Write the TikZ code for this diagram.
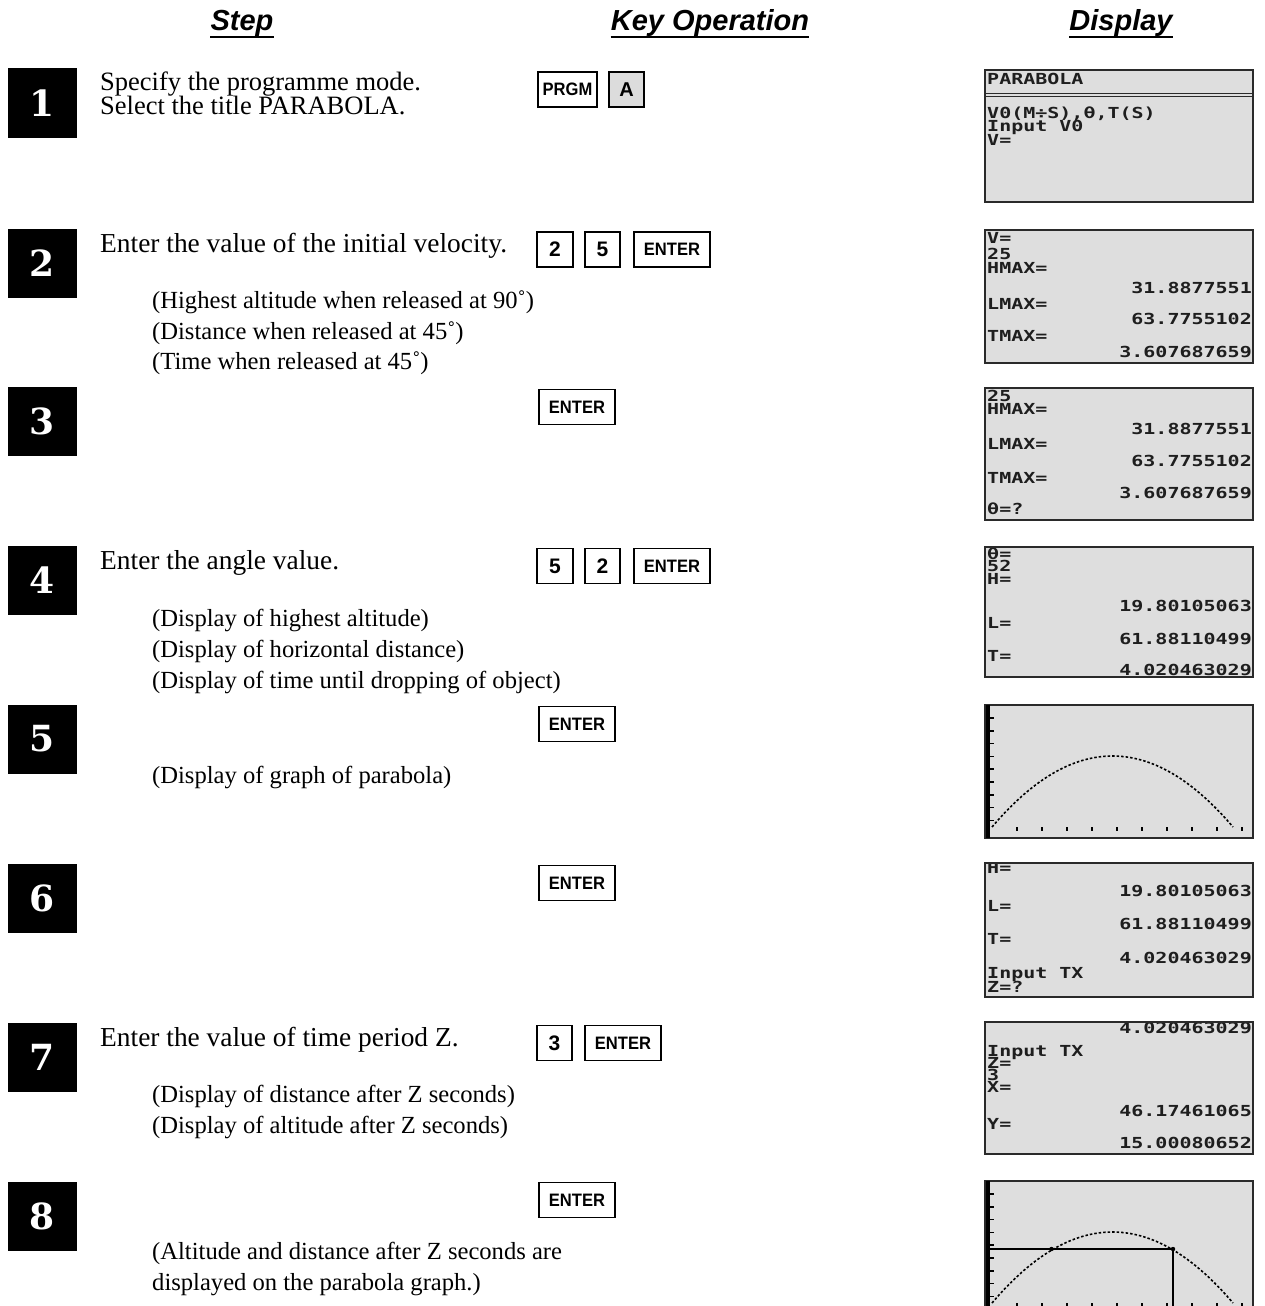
\documentclass[tikz,border=0pt]{standalone}
\usepackage{fontspec}
\setmainfont{Liberation Serif}
\newfontfamily\hdrfont{Liberation Sans}
\newfontfamily\numfont{DejaVu Serif}
\newfontfamily\lcdfont{DejaVu Sans Mono}
\newcommand\lcdtxt[1]{\scalebox{1}[0.76]{#1}}
\newcommand\keylab[1]{\scalebox{0.92}[1]{#1}}
\definecolor{lcdbg}{HTML}{DEDEDE}
\definecolor{keygray}{HTML}{DCDCDC}
\definecolor{scrline}{HTML}{2A2A2A}
\definecolor{lcdink}{HTML}{1E1E1E}
\begin{document}
\begin{tikzpicture}[x=1pt,y=-1pt,
  hdr/.style={anchor=base, inner sep=0pt, font=\hdrfont\bfseries\itshape\fontsize{29}{29}\selectfont},
  stepbox/.style={fill=black, minimum width=69pt, minimum height=69pt, inner sep=0pt, text=white,
    font=\numfont\bfseries\fontsize{36}{36}\selectfont},
  txtone/.style={anchor=base west, inner sep=0pt, font=\fontsize{26.5}{26.5}\selectfont},
  txt/.style={anchor=base west, inner sep=0pt, font=\fontsize{27.4}{27.4}\selectfont},
  sub/.style={anchor=base west, inner sep=0pt, font=\fontsize{24.6}{24.6}\selectfont},
  key/.style={draw, line width=1.2pt, minimum height=35pt, inner sep=0pt,
    font=\hdrfont\bfseries\fontsize{18}{18}\selectfont},
  dkey/.style={key, font=\hdrfont\bfseries\fontsize{21}{21}\selectfont},
  lcdl/.style={anchor=base west, inner sep=0pt, text height=11pt, text depth=1pt, text=lcdink,
    font=\lcdfont\bfseries\fontsize{20}{20}\selectfont},
  lcdr/.style={lcdl, anchor=base east},
  scr/.style={draw=scrline, line width=1.8pt},
  para/.style={line width=1.6pt, dash pattern=on 2.5pt off 2pt},
  tick/.style={line width=1.5pt}
]
\path[use as bounding box] (0,0) rectangle (1264,1306);
\clip (0,0) rectangle (1264,1306);

% ---------- headers ----------
\node[hdr] (hstep) at (242,31) {Step};
\node[hdr] (hkey) at (710,31) {Key Operation};
\node[hdr] (hdisp) at (1121,31) {Display};
\foreach \h in {hstep,hkey,hdisp}
  \draw[line width=2pt] ([yshift=-6pt]\h.base west) -- ([yshift=-6pt]\h.base east);

% ---------- step number boxes ----------
\node[stepbox] (n1) at (42.5,103) {1};
\node[stepbox] (n2) at (42.5,263) {2};
\node[stepbox] (n3) at (42.5,421) {3};
\node[stepbox] (n4) at (42.5,580) {4};
\node[stepbox] (n5) at (42.5,739) {5};
\node[stepbox] (n6) at (42.5,898) {6};
\node[stepbox] (n7) at (42.5,1057) {7};
\node[stepbox] (n8) at (42.5,1216) {8};

% ---------- step texts ----------
\node[txtone] (t1a) at (100,90) {Specify the programme mode.};
\node[txtone] (t1b) at (100,114) {Select the title PARABOLA.};
\node[txt] (t2a) at (100,252) {Enter the value of the initial velocity.};
\node[sub] (t2b) at (152,308) {(Highest altitude when released at 90˚)};
\node[sub] (t2c) at (152,339) {(Distance when released at 45˚)};
\node[sub] (t2d) at (152,369) {(Time when released at 45˚)};
\node[txt] (t4a) at (100,569) {Enter the angle value.};
\node[sub] (t4b) at (152,626) {(Display of highest altitude)};
\node[sub] (t4c) at (152,657) {(Display of horizontal distance)};
\node[sub] (t4d) at (152,688) {(Display of time until dropping of object)};
\node[sub] (t5a) at (152,783) {(Display of graph of parabola)};
\node[txt] (t7a) at (100,1046) {Enter the value of time period Z.};
\node[sub] (t7b) at (152,1102) {(Display of distance after Z seconds)};
\node[sub] (t7c) at (152,1133) {(Display of altitude after Z seconds)};
\node[sub] (t8a) at (152,1259) {(Altitude and distance after Z seconds are};
\node[sub] (t8b) at (152,1290) {displayed on the parabola graph.)};

% ---------- keys ----------
\node[key, minimum width=59pt] (k1a) at (567.5,89.5) {\keylab{PRGM}};
\node[key, minimum width=35pt, fill=keygray, font=\hdrfont\bfseries\fontsize{20}{20}\selectfont] (k1b) at (626.5,89.5) {A};
\node[dkey, minimum width=36pt] (k2a) at (555,249.5) {2};
\node[dkey, minimum width=35pt] (k2b) at (602.5,249.5) {5};
\node[key, minimum width=76pt] (k2c) at (672,249.5) {\keylab{ENTER}};
\node[key, minimum width=76pt] (k3a) at (577,407) {\keylab{ENTER}};
\node[dkey, minimum width=36pt] (k4a) at (555,566) {5};
\node[dkey, minimum width=35pt] (k4b) at (602.5,566) {2};
\node[key, minimum width=76pt] (k4c) at (672,566) {\keylab{ENTER}};
\node[key, minimum width=76pt] (k5a) at (577,724) {\keylab{ENTER}};
\node[key, minimum width=76pt] (k6a) at (577,883) {\keylab{ENTER}};
\node[dkey, minimum width=35pt] (k7a) at (554.5,1043) {3};
\node[key, minimum width=76pt] (k7b) at (623,1043) {\keylab{ENTER}};
\node[key, minimum width=76pt] (k8a) at (577,1200) {\keylab{ENTER}};

% ---------- screen 1 ----------
\begin{scope}[shift={(0,70)}]
\fill[lcdbg] (985,0) rectangle (1253,132);
\begin{scope}\clip (985,0) rectangle (1253,132);
\node[lcdl] (s1a) at (987,14.5) {\lcdtxt{PARABOLA}};
\draw[line width=1.3pt, scrline] (985,23.5) -- (1253,23.5);
\draw[line width=1.3pt, scrline] (985,26.8) -- (1253,26.8);
\node[lcdl] (s1b) at (987,48.5) {\lcdtxt{V0(M÷S),θ,T(S)}};
\node[lcdl] (s1c) at (987,61.5) {\lcdtxt{Input V0}};
\node[lcdl] (s1d) at (987,75) {\lcdtxt{V=}};
\end{scope}
\draw[scr] (985,0) rectangle (1253,132);
\end{scope}

% ---------- screen 2 ----------
\begin{scope}[shift={(0,230)}]
\fill[lcdbg] (985,0) rectangle (1253,133);
\begin{scope}\clip (985,0) rectangle (1253,133);
\node[lcdl] (s2a) at (987,13.5) {\lcdtxt{V=}};
\node[lcdl] (s2b) at (987,29.5) {\lcdtxt{25}};
\node[lcdl] (s2c) at (987,43.5) {\lcdtxt{HMAX=}};
\node[lcdr] (s2d) at (1252,63.5) {\lcdtxt{31.8877551}};
\node[lcdl] (s2e) at (987,79.5) {\lcdtxt{LMAX=}};
\node[lcdr] (s2f) at (1252,94.5) {\lcdtxt{63.7755102}};
\node[lcdl] (s2g) at (987,111.5) {\lcdtxt{TMAX=}};
\node[lcdr] (s2h) at (1252,127) {\lcdtxt{3.607687659}};
\end{scope}
\draw[scr] (985,0) rectangle (1253,133);
\end{scope}

% ---------- screen 3 ----------
\begin{scope}[shift={(0,388)}]
\fill[lcdbg] (985,0) rectangle (1253,132);
\begin{scope}\clip (985,0) rectangle (1253,132);
\node[lcdl] (s3a) at (987,13.5) {\lcdtxt{25}};
\node[lcdl] (s3b) at (987,26.5) {\lcdtxt{HMAX=}};
\node[lcdr] (s3c) at (1252,46.5) {\lcdtxt{31.8877551}};
\node[lcdl] (s3d) at (987,61.5) {\lcdtxt{LMAX=}};
\node[lcdr] (s3e) at (1252,78.5) {\lcdtxt{63.7755102}};
\node[lcdl] (s3f) at (987,95.5) {\lcdtxt{TMAX=}};
\node[lcdr] (s3g) at (1252,110.5) {\lcdtxt{3.607687659}};
\node[lcdl] (s3h) at (987,126.5) {\lcdtxt{θ=?}};
\end{scope}
\draw[scr] (985,0) rectangle (1253,132);
\end{scope}

% ---------- screen 4 ----------
\begin{scope}[shift={(0,547)}]
\fill[lcdbg] (985,0) rectangle (1253,130);
\begin{scope}\clip (985,0) rectangle (1253,130);
\node[lcdl] (s4a) at (987,12) {\lcdtxt{θ=}};
\node[lcdl] (s4b) at (987,24.5) {\lcdtxt{52}};
\node[lcdl] (s4c) at (987,37) {\lcdtxt{H=}};
\node[lcdr] (s4d) at (1252,64.5) {\lcdtxt{19.80105063}};
\node[lcdl] (s4e) at (987,81) {\lcdtxt{L=}};
\node[lcdr] (s4f) at (1252,97.5) {\lcdtxt{61.88110499}};
\node[lcdl] (s4g) at (987,114) {\lcdtxt{T=}};
\node[lcdr] (s4h) at (1252,128.5) {\lcdtxt{4.020463029}};
\end{scope}
\draw[scr] (985,0) rectangle (1253,130);
\end{scope}

% ---------- screen 5 (graph) ----------
\begin{scope}[shift={(0,705)}]
\fill[lcdbg] (985,0) rectangle (1253,133);
\draw[scr] (985,0) rectangle (1253,133);
\draw[line width=3.5pt] (988,0) -- (988,133);
\foreach \k in {0,...,8} \draw[tick] (990,{13+12.8*\k}) -- (994,{13+12.8*\k});
\foreach \k in {0,...,9} \draw[tick] ({1017+25*\k},122) -- ({1017+25*\k},125.5);
\draw[para] plot[domain=992:1233, samples=90] (\x, {51+71*((\x-1112.5)/120.5)^2});
\end{scope}

% ---------- screen 6 ----------
\begin{scope}[shift={(0,863)}]
\fill[lcdbg] (985,0) rectangle (1253,134);
\begin{scope}\clip (985,0) rectangle (1253,134);
\node[lcdl] (s6a) at (987,10) {\lcdtxt{H=}};
\node[lcdr] (s6b) at (1252,33) {\lcdtxt{19.80105063}};
\node[lcdl] (s6c) at (987,48) {\lcdtxt{L=}};
\node[lcdr] (s6d) at (1252,66) {\lcdtxt{61.88110499}};
\node[lcdl] (s6e) at (987,81) {\lcdtxt{T=}};
\node[lcdr] (s6f) at (1252,100) {\lcdtxt{4.020463029}};
\node[lcdl] (s6g) at (987,115) {\lcdtxt{Input TX}};
\node[lcdl] (s6h) at (987,129.5) {\lcdtxt{Z=?}};
\end{scope}
\draw[scr] (985,0) rectangle (1253,134);
\end{scope}

% ---------- screen 7 ----------
\begin{scope}[shift={(0,1022)}]
\fill[lcdbg] (985,0) rectangle (1253,132);
\begin{scope}\clip (985,0) rectangle (1253,132);
\node[lcdr] (s7a) at (1252,11) {\lcdtxt{4.020463029}};
\node[lcdl] (s7b) at (987,34) {\lcdtxt{Input TX}};
\node[lcdl] (s7c) at (987,46.5) {\lcdtxt{Z=}};
\node[lcdl] (s7d) at (987,58.5) {\lcdtxt{3}};
\node[lcdl] (s7e) at (987,70.5) {\lcdtxt{X=}};
\node[lcdr] (s7f) at (1252,94) {\lcdtxt{46.17461065}};
\node[lcdl] (s7g) at (987,107) {\lcdtxt{Y=}};
\node[lcdr] (s7h) at (1252,126) {\lcdtxt{15.00080652}};
\end{scope}
\draw[scr] (985,0) rectangle (1253,132);
\end{scope}

% ---------- screen 8 (graph with point) ----------
\begin{scope}[shift={(0,1181)}]
\fill[lcdbg] (985,0) rectangle (1253,133);
\draw[scr] (985,0) rectangle (1253,133);
\draw[line width=3.5pt] (988,0) -- (988,133);
\foreach \k in {0,...,8} \draw[tick] (990,{13+12.8*\k}) -- (994,{13+12.8*\k});
\foreach \k in {0,...,9} \draw[tick] ({1017+25*\k},122) -- ({1017+25*\k},125.5);
\draw[para] plot[domain=992:1233, samples=90] (\x, {51+71*((\x-1112.5)/120.5)^2});
\coordinate (p8a) at (990,68);
\coordinate (p8b) at (1173,68);
\coordinate (p8c) at (1173,140);
\draw[line width=1.5pt] (p8a) -- (p8b) -- (p8c);
\fill (1051.5,68) circle (2.2pt);
\fill (p8b) circle (2.2pt);
\end{scope}
\end{tikzpicture}
\end{document}
